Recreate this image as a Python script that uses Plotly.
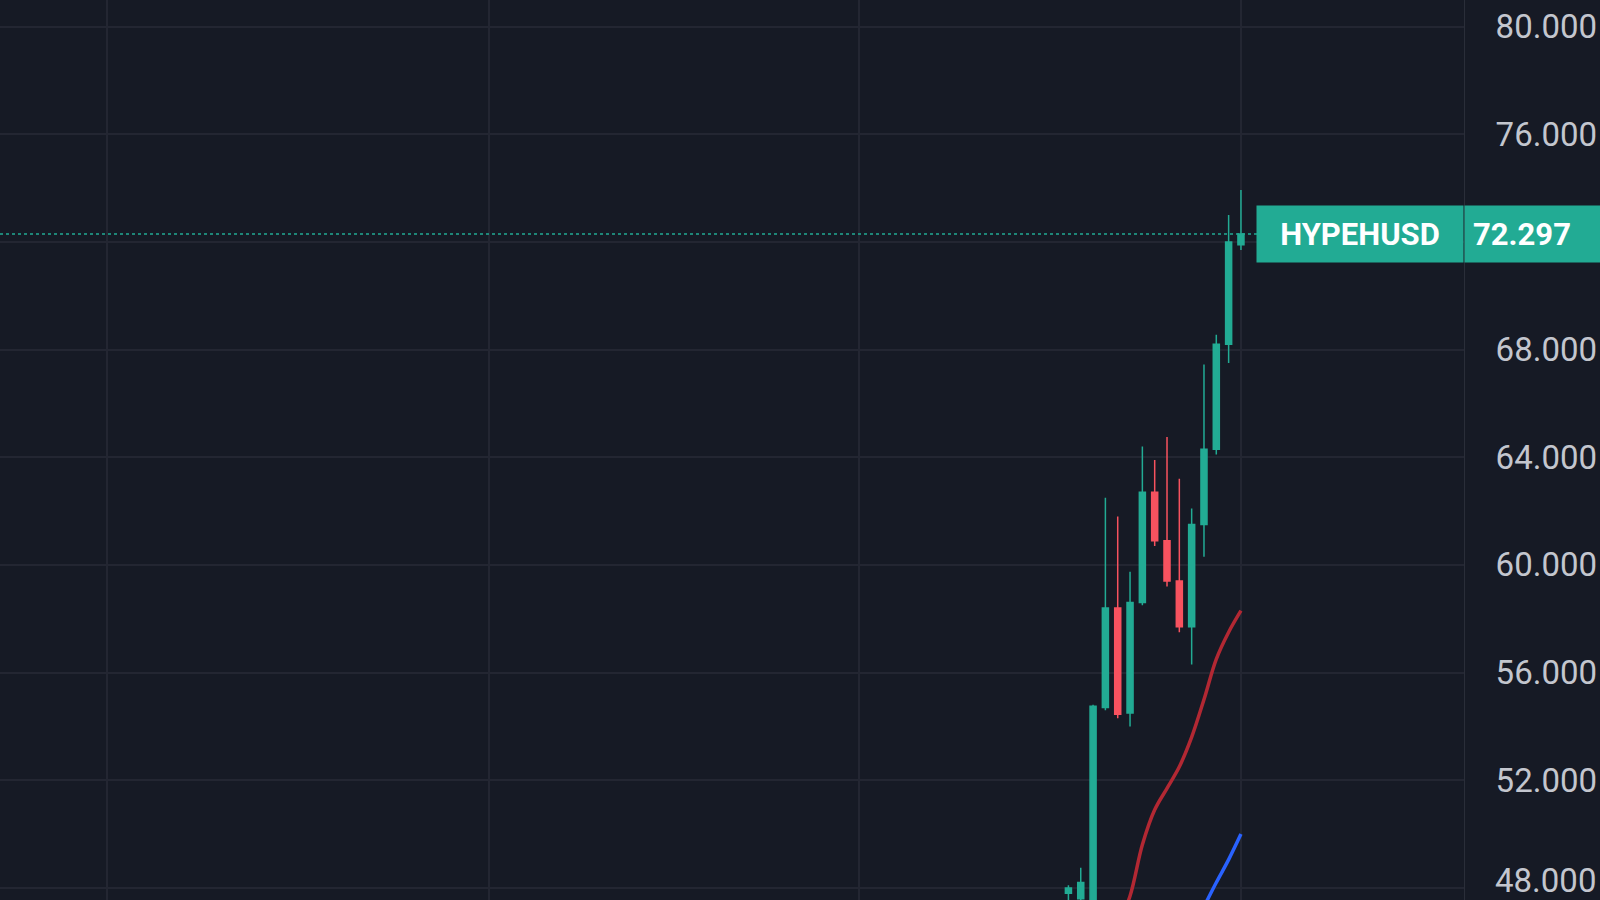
import plotly.graph_objects as go

idx = list(range(15))
opens  = [47.8, 47.6, 47.0, 54.7, 58.4, 54.5, 58.6, 62.7, 60.9, 59.4, 57.7, 61.5, 64.3, 68.2, 71.9]
highs  = [48.1, 48.75, 54.8, 62.5, 61.8, 59.75, 64.4, 63.9, 64.75, 63.2, 62.1, 67.45, 68.55, 73.0, 73.93]
lows   = [47.3, 47.2, 46.8, 54.6, 54.3, 54.0, 58.5, 60.7, 59.2, 57.5, 56.3, 60.3, 64.1, 67.5, 71.7]
closes = [48.0, 48.2, 54.75, 58.4, 54.45, 58.6, 62.7, 60.9, 59.4, 57.7, 61.5, 64.3, 68.2, 72.0, 72.297]

ma_red_x = [4, 5, 6, 7, 8, 9, 10, 11, 12, 13, 14]
ma_red_y = [46.6, 47.7, 49.6, 50.9, 51.7, 52.5, 53.6, 55.0, 56.5, 57.5, 58.3]
ma_blue_x = [11, 12, 13, 14]
ma_blue_y = [47.3, 48.2, 49.05, 50.0]

ytick_vals = [48, 52, 56, 60, 64, 68, 72, 76, 80]
ytick_text = ["48.000", "52.000", "56.000", "60.000", "64.000", "68.000", "", "76.000", "80.000"]
xgrid_vals = [-78, -47, -17, 14]
last_price = 72.297
symbol = "HYPEHUSD"

GREEN = "#22ab94"
RED = "#f7525f"
BG = "#161a25"
GRID = "#232632"
TICKFONT = dict(color="#c3c6ce", size=33, family="Roboto")

fig = go.Figure()
fig.add_trace(go.Candlestick(
    x=idx, open=opens, high=highs, low=lows, close=closes,
    increasing=dict(line=dict(color=GREEN, width=1.5), fillcolor=GREEN),
    decreasing=dict(line=dict(color=RED, width=1.5), fillcolor=RED),
    whiskerwidth=0, showlegend=False))
fig.add_trace(go.Scatter(x=ma_red_x, y=ma_red_y, mode="lines", line=dict(color="#b22833", width=3.5, shape="spline"), showlegend=False))
fig.add_trace(go.Scatter(x=ma_blue_x, y=ma_blue_y, mode="lines", line=dict(color="#2962ff", width=3.5, shape="spline"), showlegend=False))

fig.add_shape(type="line", xref="paper", yref="y", x0=0, x1=1, y0=last_price, y1=last_price,
              line=dict(color=GREEN, width=1.5, dash="dot"))
fig.add_annotation(xref="paper", yref="y", x=1, y=last_price, xanchor="right", text="<b>" + symbol + "</b>",
                   showarrow=False, bgcolor=GREEN, font=dict(color="white", size=31, family="Roboto"),
                   borderpad=8, width=190, height=40)
fig.add_annotation(xref="paper", yref="y", x=1, y=last_price, xanchor="left", text=f"<b>{last_price:.3f}</b>",
                   showarrow=False, bgcolor=GREEN, font=dict(color="white", size=31, family="Roboto"),
                   borderpad=8, width=150, height=40, align="left")
# bottom tick label (plotly hides it at the edge)
fig.add_annotation(xref="paper", yref="y", x=1, y=ytick_vals[0], xanchor="left", yanchor="bottom",
                   xshift=29, yshift=-14, text=ytick_text[0], showarrow=False, font=TICKFONT)

fig.update_layout(
    width=1600, height=900, paper_bgcolor=BG, plot_bgcolor=BG,
    margin=dict(l=0, r=136, t=0, b=0),
    xaxis=dict(range=[-86.7, 32.1], rangeslider=dict(visible=False), tickvals=xgrid_vals,
               showticklabels=False, gridcolor=GRID, gridwidth=1.5, zeroline=False, showline=False),
    yaxis=dict(range=[47.55, 80.99], side="right", tickvals=ytick_vals,
               ticktext=[""] + ytick_text[1:],
               gridcolor=GRID, gridwidth=1.5, zeroline=False, showline=True, linecolor="#2a2e39",
               tickfont=TICKFONT, ticklabelstandoff=24, automargin=False),
)
fig.write_html("out.html", config={"displayModeBar": False},
               post_script="document.body.style.margin='0';document.body.style.background='#161a25';")
